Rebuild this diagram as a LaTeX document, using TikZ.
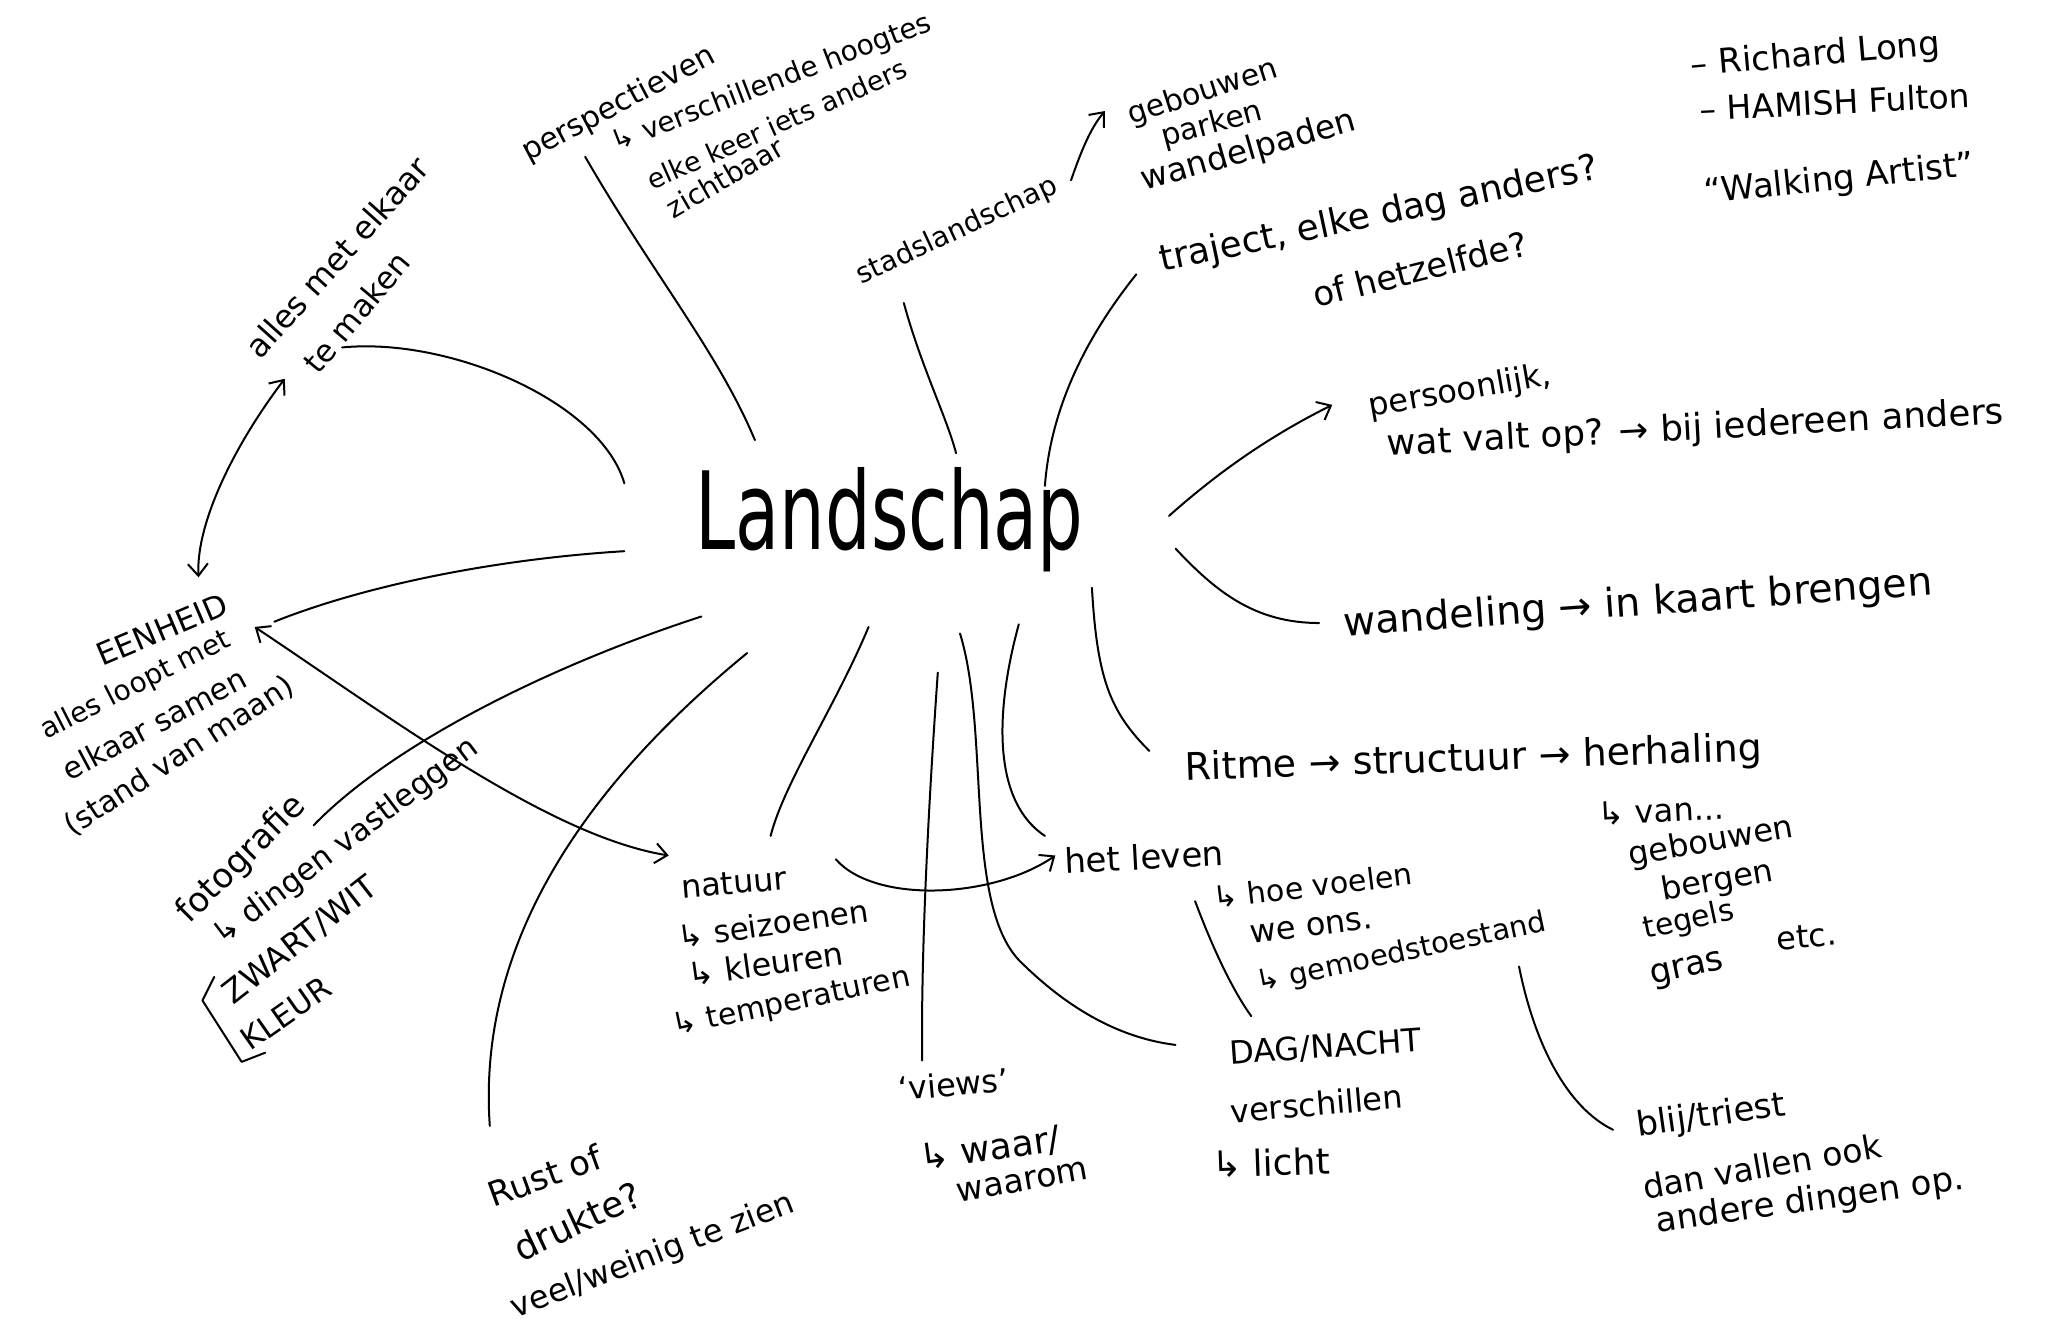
\documentclass[tikz,border=0pt]{standalone}
\usepackage{fontspec}
\setmainfont{DejaVu Sans}
\usetikzlibrary{arrows.meta}
\newcommand\fsz[1]{\fontsize{#1}{#1}\selectfont}
\begin{document}
\begin{tikzpicture}[x=0.653pt,y=-0.653pt,
  hw/.style={inner sep=0pt,text=black},
  ln/.style={line width=1pt,line cap=round,line join=round},
  arr/.style={ln,-{Straight Barb[length=6pt,width=10pt]}},
  darr/.style={ln,{Straight Barb[length=6pt,width=10pt]}-{Straight Barb[length=6pt,width=10pt]}}]
\useasboundingbox (0,0) rectangle (1568,1019);
\fill[white] (0,0) rectangle (1568,1019);

% centre
\node[hw] (land) at (681,398) {\scalebox{1}[1.5]{\fsz{36}Landschap}};

% perspectieven
\node[hw,rotate=28,font=\fsz{15}] (persp1) at (474,80) {perspectieven};
\node[hw,rotate=21,font=\fsz{14}] (persp2) at (591,64) {↳ verschillende hoogtes};
\node[hw,rotate=24,font=\fsz{13.5}] (persp3) at (595,95) {elke keer iets anders};
\node[hw,rotate=30,font=\fsz{14}] (persp4) at (555,136) {zichtbaar};

% stadslandschap
\node[hw,rotate=25,font=\fsz{14}] (stad) at (733,177) {stadslandschap};
\node[hw,rotate=18,font=\fsz{15}] (sg1) at (921,71) {gebouwen};
\node[hw,rotate=15,font=\fsz{15}] (sg2) at (928,96) {parken};
\node[hw,rotate=16,font=\fsz{16.5}] (sg3) at (956,116) {wandelpaden};

% traject
\node[hw,rotate=12,font=\fsz{18}] (traj1) at (1056,165) {traject, elke dag anders?};
\node[hw,rotate=14,font=\fsz{17}] (traj2) at (1087,206) {of hetzelfde?};

% artists
\node[hw,rotate=5,font=\fsz{17}] (rl1) at (1390,43) {– Richard Long};
\node[hw,rotate=3,font=\fsz{16.5}] (rl2) at (1405,78) {– HAMISH Fulton};
\node[hw,rotate=6,font=\fsz{17}] (rl3) at (1408,138) {“Walking Artist”};

% persoonlijk
\node[hw,rotate=10,font=\fsz{16}] (pers1) at (1118,300) {persoonlijk,};
\node[hw,rotate=3,font=\fsz{17.8}] (pers2) at (1298,329) {wat valt op? → bij iedereen anders};

% wandeling
\node[hw,rotate=4,font=\fsz{19.8}] (wand) at (1254,463) {wandeling → in kaart brengen};

% ritme
\node[hw,rotate=2,font=\fsz{19}] (ritme) at (1128,582) {Ritme → structuur → herhaling};
\node[hw,rotate=3,font=\fsz{16}] (van) at (1272,621) {↳ van...};
\node[hw,rotate=10,font=\fsz{16}] (rg1) at (1310,645) {gebouwen};
\node[hw,rotate=10,font=\fsz{16}] (rg2) at (1315,675) {bergen};
\node[hw,rotate=12,font=\fsz{15}] (rg3) at (1293,705) {tegels};
\node[hw,rotate=12,font=\fsz{17}] (rg4) at (1292,743) {gras};
\node[hw,rotate=5,font=\fsz{16}] (etc) at (1383,717) {etc.};

% het leven
\node[hw,rotate=3,font=\fsz{17}] (leven) at (876,656) {het leven};
\node[hw,rotate=7,font=\fsz{15}] (hoe1) at (1005,678) {↳ hoe voelen};
\node[hw,rotate=7,font=\fsz{16}] (hoe2) at (1004,710) {we ons.};
\node[hw,rotate=12,font=\fsz{14.5}] (hoe3) at (1073,730) {↳ gemoedstoestand};

% dag/nacht
\node[hw,rotate=4,font=\fsz{16}] (dag1) at (1015,802) {DAG/NACHT};
\node[hw,rotate=5,font=\fsz{16}] (dag2) at (1008,845) {verschillen};
\node[hw,rotate=2,font=\fsz{18}] (dag3) at (973,890) {↳ licht};

% blij/triest
\node[hw,rotate=8,font=\fsz{17}] (blij1) at (1310,855) {blij/triest};
\node[hw,rotate=10,font=\fsz{16.5}] (blij2) at (1349,893) {dan vallen ook};
\node[hw,rotate=8,font=\fsz{17}] (blij3) at (1386,920) {andere dingen op.};

% views
\node[hw,rotate=5,font=\fsz{16}] (views1) at (730,830) {‘views’};
\node[hw,rotate=8,font=\fsz{18}] (views2) at (758,880) {↳ waar/};
\node[hw,rotate=10,font=\fsz{16.5}] (views3) at (783,905) {waarom};

% natuur
\node[hw,rotate=5,font=\fsz{16}] (nat1) at (562,676) {natuur};
\node[hw,rotate=8,font=\fsz{15.5}] (nat2) at (592,707) {↳ seizoenen};
\node[hw,rotate=8,font=\fsz{16}] (nat3) at (586,738) {↳ kleuren};
\node[hw,rotate=12,font=\fsz{15}] (nat4) at (606,768) {↳ temperaturen};

% rust
\node[hw,rotate=20,font=\fsz{17}] (rust1) at (417,900) {Rust of};
\node[hw,rotate=25,font=\fsz{18}] (rust2) at (442,935) {drukte?};
\node[hw,rotate=21,font=\fsz{16}] (rust3) at (500,962) {veel/weinig te zien};

% fotografie
\node[hw,rotate=45,font=\fsz{17}] (foto1) at (185,658) {fotografie};
\node[hw,rotate=37,font=\fsz{15.5}] (foto2) at (265,645) {↳ dingen vastleggen};
\node[hw,rotate=38,font=\fsz{16}] (foto3) at (230,720) {ZWART/WIT};
\node[hw,rotate=35,font=\fsz{15.5}] (foto4) at (219,776) {KLEUR};

% eenheid
\node[hw,rotate=23,font=\fsz{15.5}] (een1) at (124,482) {EENHEID};
\node[hw,rotate=27,font=\fsz{14}] (een2) at (104,525) {alles loopt met};
\node[hw,rotate=28,font=\fsz{15}] (een3) at (118,554) {elkaar samen};
\node[hw,rotate=33,font=\fsz{15}] (een4) at (137,579) {(stand van maan)};

% alles met elkaar
\node[hw,rotate=48,font=\fsz{16}] (alles1) at (258,197) {alles met elkaar};
\node[hw,rotate=50,font=\fsz{15.5}] (alles2) at (273,239) {te maken};

% connector end points
\coordinate (cPa) at (448,120);  \coordinate (cPb) at (578,337);
\coordinate (cSa) at (692,232);  \coordinate (cSb) at (732,347);
\coordinate (cTa) at (870,210);  \coordinate (cTb) at (800,372);
\coordinate (cGa) at (820,138);  \coordinate (cGb) at (846,85);
\coordinate (cPea) at (895,395); \coordinate (cPeb) at (1020,310);
\coordinate (cWa) at (900,420);  \coordinate (cWb) at (1010,477);
\coordinate (cRa) at (836,450);  \coordinate (cRb) at (880,575);
\coordinate (cLa) at (780,478);  \coordinate (cLb) at (800,640);
\coordinate (cDa) at (735,485);  \coordinate (cDb) at (900,800);
\coordinate (cVa) at (718,515);  \coordinate (cVb) at (706,812);
\coordinate (cNa) at (665,480);  \coordinate (cNb) at (590,640);
\coordinate (cRua) at (572,500); \coordinate (cRub) at (375,862);
\coordinate (cFa) at (537,472);  \coordinate (cFb) at (240,632);
\coordinate (cEa) at (478,422);  \coordinate (cEb) at (210,476);
\coordinate (cMa) at (478,370);  \coordinate (cMb) at (262,266);
\coordinate (cEMa) at (218,290); \coordinate (cEMb) at (152,442);
\coordinate (cENa) at (195,480); \coordinate (cENb) at (512,655);
\coordinate (cNLa) at (640,658); \coordinate (cNLb) at (808,655);
\coordinate (cLDa) at (915,690); \coordinate (cLDb) at (958,778);
\coordinate (cGBa) at (1163,740);\coordinate (cGBb) at (1235,865);

% connectors
\draw[ln] (cPa) .. controls (500,210) and (550,270) .. (cPb);
\draw[ln] (cSa) .. controls (705,280) and (725,320) .. (cSb);
\draw[ln] (cTa) .. controls (838,250) and (805,305) .. (cTb);
\draw[arr] (cGa) .. controls (828,115) and (835,98) .. (cGb);
\draw[arr] (cPea) .. controls (940,355) and (980,330) .. (cPeb);
\draw[ln] (cWa) .. controls (930,452) and (960,477) .. (cWb);
\draw[ln] (cRa) .. controls (840,520) and (850,545) .. (cRb);
\draw[ln] (cLa) .. controls (763,540) and (758,612) .. (cLb);
\draw[ln] (cDa) .. controls (758,560) and (738,690) .. (780,735) .. controls (820,775) and (860,795) .. (cDb);
\draw[ln] (cVa) .. controls (712,600) and (705,720) .. (cVb);
\draw[ln] (cNa) .. controls (640,540) and (600,600) .. (cNb);
\draw[ln] (cRua) .. controls (450,600) and (365,720) .. (cRub);
\draw[ln] (cFa) .. controls (420,510) and (300,570) .. (cFb);
\draw[ln] (cEa) .. controls (380,428) and (280,448) .. (cEb);
\draw[ln] (cMa) .. controls (460,308) and (345,258) .. (cMb);
\draw[darr] (cEMa) .. controls (180,340) and (150,400) .. (cEMb);
\draw[darr] (cENa) .. controls (300,550) and (420,640) .. (cENb);
\draw[arr] (cNLa) .. controls (670,692) and (760,688) .. (cNLb);
\draw[ln] (cLDa) .. controls (930,730) and (945,760) .. (cLDb);
\draw[ln] (cGBa) .. controls (1175,800) and (1200,848) .. (cGBb);

% bracket
\coordinate (br1) at (164,748); \coordinate (br2) at (155,766);
\coordinate (br3) at (185,813); \coordinate (br4) at (203,806);
\draw[ln] (br1) -- (br2) -- (br3) -- (br4);
\end{tikzpicture}
\end{document}
